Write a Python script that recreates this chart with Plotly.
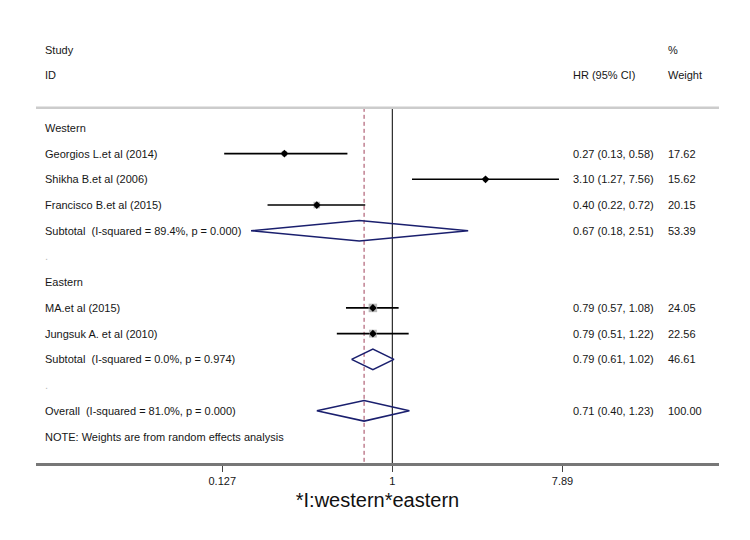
import plotly.graph_objects as go

# ---- data ----
row_labels = ["Western", "Georgios L.et al (2014)", "Shikha B.et al (2006)", "Francisco B.et al (2015)",
              "Subtotal  (I-squared = 89.4%, p = 0.000)", ".", "Eastern", "MA.et al (2015)",
              "Jungsuk A. et al (2010)", "Subtotal  (I-squared = 0.0%, p = 0.974)", ".",
              "Overall  (I-squared = 81.0%, p = 0.000)", "NOTE: Weights are from random effects analysis"]
row_type = ["head", "study", "study", "study", "sub", "blank", "head", "study", "study", "sub", "blank", "sub", "note"]
hr = [None, 0.27, 3.10, 0.40, 0.67, None, None, 0.79, 0.79, 0.79, None, 0.71, None]
lo = [None, 0.13, 1.27, 0.22, 0.18, None, None, 0.57, 0.51, 0.61, None, 0.40, None]
hi = [None, 0.58, 7.56, 0.72, 2.51, None, None, 1.08, 1.22, 1.02, None, 1.23, None]
hr_text = ["", "0.27 (0.13, 0.58)", "3.10 (1.27, 7.56)", "0.40 (0.22, 0.72)", "0.67 (0.18, 2.51)", "", "",
           "0.79 (0.57, 1.08)", "0.79 (0.51, 1.22)", "0.79 (0.61, 1.02)", "", "0.71 (0.40, 1.23)", ""]
weight_text = ["", "17.62", "15.62", "20.15", "53.39", "", "", "24.05", "22.56", "46.61", "", "100.00", ""]
weights = [None, 17.62, 15.62, 20.15, None, None, None, 24.05, 22.56, None, None, None, None]
overall_hr = 0.71
tick_vals = [0.127, 1, 7.89]
tick_text = ["0.127", "1", "7.89"]
x_title = "*I:western*eastern"

FONT = "Liberation Sans, Arial, sans-serif"
TXT = "#161616"
NAVY = "#1a1f6e"

# page offset of the plot div (body margin)
OFF = 8
PW = 683.0
PH = 433.5

fig = go.Figure()

top_r = -0.78
bottom_r = 13.03

# reference lines
fig.add_trace(go.Scatter(x=[1, 1], y=[top_r, bottom_r], mode="lines",
                         line=dict(color="black", width=1), hoverinfo="skip", showlegend=False))
fig.add_trace(go.Scatter(x=[overall_hr, overall_hr], y=[top_r, bottom_r], mode="lines",
                         line=dict(color="#a0405a", width=1, dash="4px,3px"), hoverinfo="skip", showlegend=False))

for i, t in enumerate(row_type):
    if t == "study":
        fig.add_trace(go.Scatter(x=[lo[i], hi[i]], y=[i, i], mode="lines",
                                 line=dict(color="black", width=1.6), hoverinfo="skip", showlegend=False))
        sz = max(0.5 * weights[i] - 3.5, 2)
        fig.add_trace(go.Scatter(x=[hr[i]], y=[i], mode="markers",
                                 marker=dict(symbol="square", size=sz, color="#b8b8b8", line=dict(width=0)),
                                 hoverinfo="skip", showlegend=False))
        fig.add_trace(go.Scatter(x=[hr[i]], y=[i], mode="markers",
                                 marker=dict(symbol="diamond", size=6, color="black"),
                                 hoverinfo="skip", showlegend=False))
    elif t == "sub":
        fig.add_trace(go.Scatter(x=[lo[i], hr[i], hi[i], hr[i], lo[i]], y=[i, i - 0.4, i, i + 0.4, i],
                                 mode="lines", line=dict(color=NAVY, width=1.6),
                                 hoverinfo="skip", showlegend=False))

anns = []
def txt(x, y, s, color=TXT, size=11):
    anns.append(dict(x=x, y=y, xref="paper", yref="y", text=s, showarrow=False, xanchor="left",
                     yanchor="middle", font=dict(family=FONT, size=size, color=color)))

x_left = (43 - 36) / PW
x_hr = (571 - 36) / PW
x_w = (666 - 36) / PW
txt(x_left, -3.03, "Study")
txt(x_left, -2.06, "ID")
txt(x_hr, -2.06, "HR (95% CI)")
txt(x_w, -3.03, "%")
txt(x_w, -2.06, "Weight")
for i, lab in enumerate(row_labels):
    txt(x_left, i, lab, color="#bbbbbb" if row_type[i] == "blank" else TXT)
    if hr_text[i]:
        txt(x_hr, i, hr_text[i])
        txt(x_w, i, weight_text[i])

fig.update_layout(
    width=750, height=540,
    margin=dict(l=36 - OFF, r=31 + OFF, t=30 - OFF, b=76.5 + OFF),
    paper_bgcolor="white", plot_bgcolor="white",
    annotations=anns,
    shapes=[
        dict(type="line", xref="paper", yref="y", x0=0, x1=1, y0=top_r, y1=top_r,
             line=dict(color="#cccccc", width=2.5)),
        dict(type="rect", xref="paper", yref="paper", x0=(1 - 36) / PW, x1=(745 - 36) / PW,
             y0=(463.5 - 545) / PH, y1=1 + (30 - 4) / PH, line=dict(color="#f0f0f0", width=1)),
    ],
    xaxis=dict(type="log", range=[-1.878, 1.722], showgrid=False, zeroline=False,
               showline=True, linecolor="#777777", linewidth=2.5,
               ticks="outside", ticklen=6, tickcolor="#444444", tickwidth=1,
               tickvals=tick_vals, ticktext=tick_text,
               tickfont=dict(family=FONT, size=11, color=TXT),
               title=dict(text=x_title, font=dict(family=FONT, size=20, color="#111111"), standoff=8)),
    yaxis=dict(range=[bottom_r, -3.806], showgrid=False, zeroline=False, showline=False,
               showticklabels=False, ticks=""),
)

fig.write_html("out.html")
